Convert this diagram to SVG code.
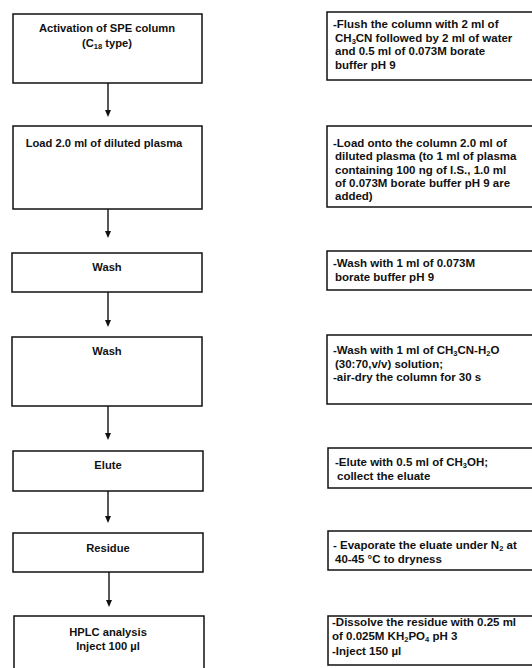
<svg xmlns="http://www.w3.org/2000/svg" width="532" height="668" viewBox="0 0 532 668">
<style>
.box{fill:#fff;stroke:#111;stroke-width:1.5}
.t{font-family:"Liberation Sans",Arial,sans-serif;font-weight:bold;font-size:11.5px;fill:#111}
.c{text-anchor:middle;font-size:11.2px}
.s{font-size:7.5px}
.con{stroke:#111;stroke-width:1.4;fill:none}
.ah{fill:#111}
</style>
<rect width="532" height="668" fill="#fff"/>
<g id="connectors">
<line class="con" x1="108" y1="83" x2="108" y2="111"/><path class="ah" d="M105,110 L111,110 L108,117 Z"/>
<line class="con" x1="108" y1="209" x2="108" y2="232"/><path class="ah" d="M105,231 L111,231 L108,238 Z"/>
<line class="con" x1="108" y1="292" x2="108" y2="321"/><path class="ah" d="M105,320 L111,320 L108,327 Z"/>
<line class="con" x1="108" y1="406" x2="108" y2="434"/><path class="ah" d="M105,433 L111,433 L108,440 Z"/>
<line class="con" x1="108" y1="491" x2="108" y2="517"/><path class="ah" d="M105,516 L111,516 L108,523 Z"/>
<line class="con" x1="109" y1="572" x2="109" y2="601"/><path class="ah" d="M106,600 L112,600 L109,607 Z"/>
</g>
<g id="step1">
<rect class="box" x="13" y="14" width="189" height="69"/>
<text class="t c" x="107" y="32">Activation of SPE column</text>
<text class="t c" x="107" y="47">(C<tspan class="s" dy="2">18</tspan><tspan dy="-2"> type)</tspan></text>
</g>
<g id="note1">
<rect class="box" x="327" y="12" width="220" height="68"/>
<text class="t" x="333" y="28">-Flush the column with 2 ml of</text>
<text class="t" x="335" y="42">CH<tspan class="s" dy="2">3</tspan><tspan dy="-2">CN followed by 2 ml of water</tspan></text>
<text class="t" x="335" y="55">and 0.5 ml of 0.073M borate</text>
<text class="t" x="335" y="69">buffer pH 9</text>
</g>
<g id="step2">
<rect class="box" x="13" y="126" width="189" height="83"/>
<text class="t c" x="104" y="147">Load 2.0 ml of diluted plasma</text>
</g>
<g id="note2">
<rect class="box" x="327" y="126" width="220" height="81"/>
<text class="t" x="333" y="147">-Load onto the column 2.0 ml of</text>
<text class="t" x="335" y="160">diluted plasma (to 1 ml of plasma</text>
<text class="t" x="335" y="174">containing 100 ng of I.S., 1.0 ml</text>
<text class="t" x="335" y="187">of 0.073M borate buffer pH 9 are</text>
<text class="t" x="335" y="200">added)</text>
</g>
<g id="step3">
<rect class="box" x="12" y="253" width="190" height="39"/>
<text class="t c" x="107" y="271">Wash</text>
</g>
<g id="note3">
<rect class="box" x="327" y="251" width="220" height="39"/>
<text class="t" x="333" y="267">-Wash with 1 ml of 0.073M</text>
<text class="t" x="335" y="281">borate buffer pH 9</text>
</g>
<g id="step4">
<rect class="box" x="12" y="337" width="190" height="69"/>
<text class="t c" x="107" y="355">Wash</text>
</g>
<g id="note4">
<rect class="box" x="327" y="335" width="220" height="69"/>
<text class="t" x="333" y="354">-Wash with 1 ml of CH<tspan class="s" dy="2">3</tspan><tspan dy="-2">CN-H</tspan><tspan class="s" dy="2">2</tspan><tspan dy="-2">O</tspan></text>
<text class="t" x="335" y="368">(30:70,v/v) solution;</text>
<text class="t" x="333" y="381">-air-dry the column for 30 s</text>
</g>
<g id="step5">
<rect class="box" x="13" y="451" width="190" height="40"/>
<text class="t c" x="108" y="469">Elute</text>
</g>
<g id="note5">
<rect class="box" x="328" y="448" width="220" height="40"/>
<text class="t" x="335" y="466">-Elute with 0.5 ml of CH<tspan class="s" dy="2">3</tspan><tspan dy="-2">OH;</tspan></text>
<text class="t" x="337" y="480">collect the eluate</text>
</g>
<g id="step6">
<rect class="box" x="13" y="533" width="190" height="39"/>
<text class="t c" x="108" y="552">Residue</text>
</g>
<g id="note6">
<rect class="box" x="328" y="531" width="220" height="39"/>
<text class="t" x="333" y="549">- Evaporate the eluate under N<tspan class="s" dy="2">2</tspan><tspan dy="-2"> at</tspan></text>
<text class="t" x="335" y="563">40-45 °C to dryness</text>
</g>
<g id="step7">
<rect class="box" x="14" y="616" width="190" height="70"/>
<text class="t c" x="108" y="636">HPLC analysis</text>
<text class="t c" x="108" y="650">Inject 100 µl</text>
</g>
<g id="note7">
<rect class="box" x="328" y="616" width="220" height="49"/>
<text class="t" x="332" y="626">-Dissolve the residue with 0.25 ml</text>
<text class="t" x="332" y="640">of 0.025M KH<tspan class="s" dy="2">2</tspan><tspan dy="-2">PO</tspan><tspan class="s" dy="2">4</tspan><tspan dy="-2"> pH 3</tspan></text>
<text class="t" x="332" y="655">-Inject 150 µl</text>
</g>
</svg>
